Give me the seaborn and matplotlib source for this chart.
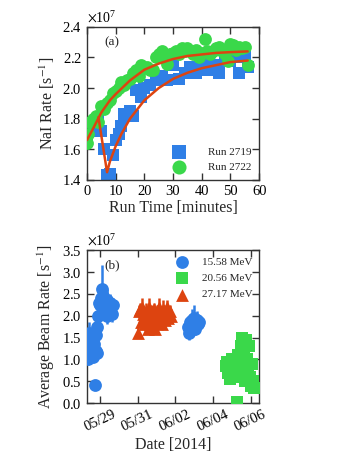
import numpy as np
import pandas as pd
import matplotlib
matplotlib.use("Agg")
import matplotlib.pyplot as plt
import matplotlib.dates as mdates
from matplotlib.ticker import ScalarFormatter
import seaborn as sns

# colours
blue = "#2f7fe6"
green = "#3ad84a"
red = "#dd4410"

# ---- panel (a) data, rates in units of 1e7 s^-1 ----
t_2719 = [0, 2, 4, 5, 6, 7, 8, 9, 10, 11, 12, 13, 15, 16, 17, 19, 20, 22, 24, 26,
          28, 30, 32, 34, 36, 38, 40, 42, 44, 46, 48, 50, 52, 53, 55, 56]
r_2719 = [1.68, 1.72, 1.80, 1.72, 1.60, 1.43, 1.44, 1.56, 1.66, 1.70, 1.75, 1.83,
          1.85, 1.82, 1.99, 1.94, 2.00, 2.02, 2.05, 2.08, 2.05, 2.15, 2.06, 2.10,
          2.14, 2.10, 2.16, 2.12, 2.15, 2.10, 2.18, 2.18, 2.20, 2.10, 2.20, 2.14]

t_2722 = [0, 0.5, 1, 2, 3, 4, 5, 6, 7, 8, 9, 10, 11, 12, 13, 14, 15, 16, 17, 18,
          19, 20, 21, 22, 23, 24, 25, 26, 27, 28, 29, 30, 31, 32, 33, 34, 35, 36,
          37, 38, 39, 40, 41, 42, 43, 44, 45, 46, 47, 48, 49, 50, 51, 52, 53, 54,
          55, 56]
r_2722 = [1.64, 1.70, 1.78, 1.80, 1.82, 1.78, 1.88, 1.86, 1.90, 1.92, 1.97, 1.98,
          2.00, 2.04, 2.02, 2.05, 2.06, 2.10, 2.12, 2.08, 2.15, 2.13, 2.14, 2.12,
          2.12, 2.20, 2.22, 2.24, 2.20, 2.16, 2.22, 2.23, 2.24, 2.22, 2.26, 2.24,
          2.26, 2.24, 2.22, 2.25, 2.20, 2.23, 2.32, 2.24, 2.22, 2.24, 2.26, 2.27,
          2.24, 2.22, 2.18, 2.29, 2.28, 2.25, 2.27, 2.26, 2.27, 2.15]

# fit curves
fit_t_2722 = [0, 2, 5, 8, 10, 15, 20, 25, 30, 35, 40, 45, 50, 56]
fit_r_2722 = [1.66, 1.73, 1.84, 1.92, 1.96, 2.05, 2.12, 2.16, 2.19, 2.21, 2.22,
              2.23, 2.235, 2.24]
fit_t_2719 = [4, 7, 8, 10, 12, 15, 20, 25, 30, 35, 40, 45, 50, 56]
fit_r_2719 = [1.81, 1.45, 1.52, 1.62, 1.70, 1.80, 1.92, 2.00, 2.06, 2.10, 2.13,
              2.15, 2.17, 2.18]

# ---- panel (b) data: days after 2014-05-28 00:00, rate (1e7), error ----
d_1558 = [0.36, 0.37, 0.40, 0.42, 0.47, 0.52, 0.57, 0.62, 0.66, 0.73, 0.78, 0.80,
          0.84, 0.86,
          0.92, 0.97, 1.02, 1.07, 1.12, 1.16, 1.20, 1.24, 1.30, 1.35, 1.40, 1.46,
          1.51, 1.56, 1.62, 1.67,
          5.68, 5.73, 5.79, 5.84, 5.89, 5.95, 6.00, 6.05, 6.10, 6.16, 6.21, 6.26]
r_1558 = [1.00, 1.20, 1.40, 1.60, 1.30, 1.10, 1.45, 1.05, 1.35, 0.42, 1.55, 1.20,
          1.75, 1.15,
          2.00, 2.30, 2.25, 2.40, 2.60, 2.45, 2.20, 2.30, 2.10, 2.35, 2.00, 2.25,
          2.20, 2.30, 2.05, 2.25,
          1.75, 1.60, 1.85, 1.70, 1.90, 1.80, 1.95, 1.70, 1.85, 1.90, 1.80, 1.85]
e_1558 = [0.12, 0.15, 0.15, 0.25, 0.12, 0.10, 0.15, 0.10, 0.12, 0.05, 0.15, 0.10,
          0.12, 0.10,
          0.20, 0.25, 0.20, 0.25, 0.55, 0.25, 0.20, 0.25, 0.20, 0.25, 0.20, 0.20,
          0.20, 0.20, 0.20, 0.15,
          0.15, 0.15, 0.20, 0.15, 0.25, 0.20, 0.30, 0.15, 0.20, 0.20, 0.15, 0.15]

d_2056 = [7.70, 7.75, 7.80, 7.85, 7.90, 7.95, 8.00, 8.05, 8.10, 8.15, 8.30, 8.20,
          8.26, 8.36, 8.42, 8.47, 8.52, 8.57, 8.62, 8.67, 8.72, 8.77, 8.82, 8.88,
          8.93, 8.98, 9.04, 9.09, 9.14, 9.20]
r_2056 = [0.85, 0.95, 0.70, 0.90, 0.55, 0.75, 1.00, 0.80, 0.60, 0.90, 0.02, 0.70,
          0.80, 1.10, 0.60, 1.30, 0.90, 1.50, 0.70, 1.20, 0.50, 1.45, 1.00, 0.85,
          1.30, 0.60, 0.40, 0.90, 0.50, 0.35]
e_2056 = [0.10] * 30

d_2717 = [3.00, 3.05, 3.14, 3.19, 3.24, 3.30, 3.35, 3.40, 3.46, 3.51, 3.56, 3.62,
          3.67, 3.72, 3.78, 3.83, 3.88, 3.94, 3.99, 4.04, 4.10, 4.15, 4.20, 4.26,
          4.31, 4.36, 4.42, 4.47, 4.52, 4.58, 4.63, 4.68, 4.72, 4.76]
r_2717 = [1.60, 2.10, 2.15, 1.85, 2.20, 2.05, 2.00, 1.80, 2.10, 1.95, 1.70, 2.20,
          2.00, 1.75, 2.05, 1.90, 2.15, 1.70, 2.00, 2.10, 1.85, 2.20, 1.95, 2.05,
          1.80, 2.15, 2.10, 1.90, 2.00, 2.20, 1.95, 2.05, 2.10, 2.00]
e_2717 = [0.12, 0.15, 0.15, 0.15, 0.20, 0.15, 0.20, 0.15, 0.20, 0.15, 0.12, 0.20,
          0.15, 0.15, 0.20, 0.15, 0.15, 0.12, 0.20, 0.15, 0.15, 0.20, 0.15, 0.15,
          0.12, 0.20, 0.15, 0.15, 0.15, 0.15, 0.15, 0.15, 0.15, 0.15]

date_ticks = ["2014-05-29", "2014-05-31", "2014-06-02", "2014-06-04", "2014-06-06"]
start = pd.Timestamp("2014-05-28")

sns.set_style("ticks")
plt.rcParams["font.family"] = ["Liberation Serif", "DejaVu Serif"]
plt.rcParams["mathtext.fontset"] = "stix"
plt.rcParams["axes.edgecolor"] = "#333333"
plt.rcParams["xtick.color"] = "#333333"
plt.rcParams["ytick.color"] = "#333333"
plt.rcParams["xtick.labelcolor"] = "black"
plt.rcParams["ytick.labelcolor"] = "black"

fig = plt.figure(figsize=(3.41, 4.72), dpi=100)
ax1 = fig.add_axes([0.255, 0.619, 0.505, 0.324])
ax2 = fig.add_axes([0.255, 0.146, 0.505, 0.324])

def to_dates(days):
    return start + pd.to_timedelta(np.array(days), unit="D")

# ---- panel (a) ----
sns.scatterplot(x=t_2719, y=np.array(r_2719) * 1e7, marker="s", s=85, color=blue,
                linewidth=0, ax=ax1, label="Run 2719", zorder=2)
sns.scatterplot(x=t_2722, y=np.array(r_2722) * 1e7, marker="o", s=85, color=green,
                linewidth=0, ax=ax1, label="Run 2722", zorder=3)
sns.lineplot(x=fit_t_2719, y=np.array(fit_r_2719) * 1e7, color=red, lw=1.8,
             ax=ax1, sort=False, estimator=None, zorder=4)
sns.lineplot(x=fit_t_2722, y=np.array(fit_r_2722) * 1e7, color=red, lw=1.8,
             ax=ax1, sort=False, estimator=None, zorder=4)
ax1.set_xlim(0, 60)
ax1.set_ylim(1.4e7, 2.4e7)
ax1.set_xticks(range(0, 61, 10))
ax1.set_yticks(np.arange(1.4, 2.41, 0.2) * 1e7)
ax1.set_xlabel("Run Time [minutes]", fontsize=11.5, labelpad=2)
ax1.set_ylabel("NaI Rate [s$^{-1}$]", fontsize=11.5)
ax1.text(0.1, 0.9, "(a)", transform=ax1.transAxes, fontsize=9.5, va="center")
ax1.legend(loc="lower right", frameon=False, fontsize=8, handletextpad=1.6,
           borderaxespad=0.3, markerscale=1.1, labelspacing=0.5)

# ---- panel (b) ----
for d, r, e, col, mk, lab in [
        (d_1558, r_1558, e_1558, blue, "o", "15.58 MeV"),
        (d_2056, r_2056, e_2056, green, "s", "20.56 MeV"),
        (d_2717, r_2717, e_2717, red, "^", "27.17 MeV")]:
    x = to_dates(d)
    y = np.array(r) * 1e7
    ax2.errorbar(x, y, yerr=np.array(e) * 1e7, fmt="none", ecolor=col,
                 elinewidth=1.8, zorder=2)
    sns.scatterplot(x=x, y=y, marker=mk, s=85, color=col, linewidth=0, ax=ax2,
                    label=lab, zorder=3)
ax2.set_xlim(start + pd.Timedelta(days=0.31), start + pd.Timedelta(days=9.46))
ax2.set_ylim(0, 3.5e7)
ax2.set_yticks(np.arange(0, 3.51, 0.5) * 1e7)
ax2.set_xticks(pd.to_datetime(date_ticks))
ax2.xaxis.set_major_formatter(mdates.DateFormatter("%m/%d"))
for lbl in ax2.get_xticklabels():
    lbl.set_rotation(25)
    lbl.set_ha("center")
ax2.set_xlabel("Date [2014]", fontsize=11.5, labelpad=2)
ax2.set_ylabel("Average Beam Rate [s$^{-1}$]", fontsize=11.5)
ax2.text(0.1, 0.9, "(b)", transform=ax2.transAxes, fontsize=9.5, va="center")
ax2.legend(loc="upper right", frameon=False, fontsize=8, handletextpad=0.8,
           borderaxespad=0.2, labelspacing=0.6)

for ax in (ax1, ax2):
    fmt = ScalarFormatter(useMathText=True)
    fmt.set_powerlimits((0, 0))
    ax.yaxis.set_major_formatter(fmt)
    ax.yaxis.get_offset_text().set_fontsize(10)
    ax.tick_params(direction="in", top=True, right=True, length=5, width=1,
                   labelsize=10.5)
    for sp in ax.spines.values():
        sp.set_linewidth(1.0)

fig.savefig("out.png", dpi=100)
